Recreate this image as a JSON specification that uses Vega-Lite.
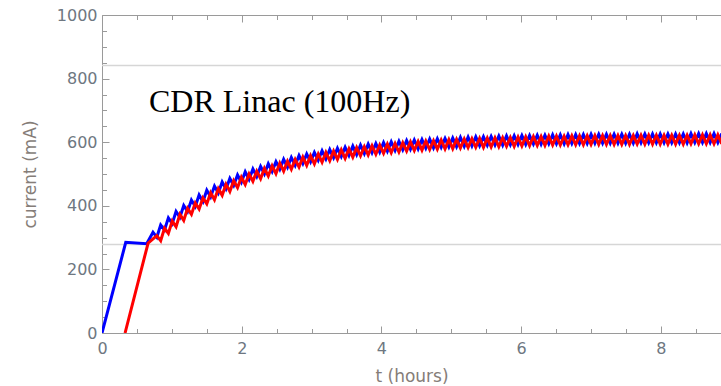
{
  "$schema": "https://vega.github.io/schema/vega-lite/v6.json",
  "width": 619,
  "height": 318,
  "autosize": {"type": "none"},
  "padding": {"left": 102, "top": 15, "right": 0, "bottom": 53},
  "background": "white",
  "config": {
    "view": {"stroke": null},
    "axis": {
      "domainColor": "#9a9a9a",
      "domainWidth": 1,
      "tickColor": "#9a9a9a",
      "tickWidth": 1,
      "grid": false,
      "labelFlush": false,
      "labelColor": "#6e7781",
      "labelFont": "DejaVu Sans",
      "labelFontSize": 16,
      "titleFont": "DejaVu Sans",
      "titleFontSize": 17,
      "titleFontWeight": "normal",
      "titleColor": "#857d78"
    }
  },
  "datasets": {
    "blue": [
      {"t":0,"c":0},{"t":0.34,"c":285},{"t":0.64,"c":281},
      {"t":0.73,"c":317},{"t":0.785,"c":301},{"t":0.84,"c":340},{"t":0.895,"c":324},{"t":0.95,"c":362},{"t":1.005,"c":344},
      {"t":1.06,"c":382},{"t":1.115,"c":364},{"t":1.17,"c":401},{"t":1.225,"c":382},{"t":1.28,"c":418},{"t":1.335,"c":398},
      {"t":1.39,"c":434},{"t":1.445,"c":413},{"t":1.5,"c":449},{"t":1.555,"c":428},{"t":1.61,"c":462},{"t":1.665,"c":440},
      {"t":1.72,"c":475},{"t":1.775,"c":453},{"t":1.83,"c":486},{"t":1.885,"c":464},{"t":1.94,"c":497},{"t":1.995,"c":474},
      {"t":2.05,"c":507},{"t":2.105,"c":483},{"t":2.16,"c":516},{"t":2.215,"c":492},{"t":2.27,"c":524},{"t":2.325,"c":500},
      {"t":2.38,"c":532},{"t":2.435,"c":508},{"t":2.49,"c":539},{"t":2.545,"c":515},{"t":2.6,"c":546},{"t":2.655,"c":521},
      {"t":2.71,"c":552},{"t":2.765,"c":527},{"t":2.82,"c":558},{"t":2.875,"c":533},{"t":2.93,"c":563},{"t":2.985,"c":538},
      {"t":3.04,"c":568},{"t":3.095,"c":543},{"t":3.15,"c":573},{"t":3.205,"c":547},{"t":3.26,"c":577},{"t":3.315,"c":551},
      {"t":3.37,"c":581},{"t":3.425,"c":555},{"t":3.48,"c":584},{"t":3.535,"c":558},{"t":3.59,"c":588},{"t":3.645,"c":561},
      {"t":3.7,"c":591},{"t":3.755,"c":564},{"t":3.81,"c":594},{"t":3.865,"c":567},{"t":3.92,"c":596},{"t":3.975,"c":569},
      {"t":4.03,"c":599},{"t":4.085,"c":572},{"t":4.14,"c":601},{"t":4.195,"c":574},{"t":4.25,"c":603},{"t":4.305,"c":576},
      {"t":4.36,"c":605},{"t":4.415,"c":578},{"t":4.47,"c":607},{"t":4.525,"c":579},{"t":4.58,"c":608},{"t":4.635,"c":581},
      {"t":4.69,"c":610},{"t":4.745,"c":582},{"t":4.8,"c":611},{"t":4.855,"c":584},{"t":4.91,"c":612},{"t":4.965,"c":585},
      {"t":5.02,"c":613},{"t":5.075,"c":586},{"t":5.13,"c":615},{"t":5.185,"c":587},{"t":5.24,"c":616},{"t":5.295,"c":588},
      {"t":5.35,"c":617},{"t":5.405,"c":589},{"t":5.46,"c":617},{"t":5.515,"c":590},{"t":5.57,"c":618},{"t":5.625,"c":591},
      {"t":5.68,"c":619},{"t":5.735,"c":591},{"t":5.79,"c":620},{"t":5.845,"c":592},{"t":5.9,"c":620},{"t":5.955,"c":593},
      {"t":6.01,"c":621},{"t":6.065,"c":593},{"t":6.12,"c":621},{"t":6.175,"c":594},{"t":6.23,"c":622},{"t":6.285,"c":594},
      {"t":6.34,"c":622},{"t":6.395,"c":595},{"t":6.45,"c":623},{"t":6.505,"c":595},{"t":6.56,"c":623},{"t":6.615,"c":595},
      {"t":6.67,"c":624},{"t":6.725,"c":596},{"t":6.78,"c":624},{"t":6.835,"c":596},{"t":6.89,"c":624},{"t":6.945,"c":596},
      {"t":7.0,"c":625},{"t":7.055,"c":597},{"t":7.11,"c":625},{"t":7.165,"c":597},{"t":7.22,"c":625},{"t":7.275,"c":597},
      {"t":7.33,"c":625},{"t":7.385,"c":597},{"t":7.44,"c":625},{"t":7.495,"c":597},{"t":7.55,"c":625},{"t":7.605,"c":597},
      {"t":7.66,"c":626},{"t":7.715,"c":598},{"t":7.77,"c":626},{"t":7.825,"c":598},{"t":7.88,"c":626},{"t":7.935,"c":598},
      {"t":7.99,"c":626},{"t":8.045,"c":598},{"t":8.1,"c":626},{"t":8.155,"c":598},{"t":8.21,"c":626},{"t":8.265,"c":598},
      {"t":8.32,"c":626},{"t":8.375,"c":598},{"t":8.43,"c":627},{"t":8.485,"c":599},{"t":8.54,"c":627},{"t":8.595,"c":599},
      {"t":8.65,"c":627},{"t":8.705,"c":599},{"t":8.76,"c":627},{"t":8.815,"c":599},{"t":8.87,"c":627}
    ],
    "red": [
      {"t":0.33,"c":0},{"t":0.66,"c":283},
      {"t":0.785,"c":306},{"t":0.84,"c":290},{"t":0.895,"c":330},{"t":0.95,"c":313},{"t":1.005,"c":352},
      {"t":1.06,"c":334},{"t":1.115,"c":373},{"t":1.17,"c":354},{"t":1.225,"c":392},{"t":1.28,"c":373},{"t":1.335,"c":409},
      {"t":1.39,"c":390},{"t":1.445,"c":425},{"t":1.5,"c":406},{"t":1.555,"c":441},{"t":1.61,"c":419},{"t":1.665,"c":454},
      {"t":1.72,"c":433},{"t":1.775,"c":468},{"t":1.83,"c":445},{"t":1.885,"c":479},{"t":1.94,"c":457},{"t":1.995,"c":490},
      {"t":2.05,"c":467},{"t":2.105,"c":500},{"t":2.16,"c":477},{"t":2.215,"c":509},{"t":2.27,"c":485},{"t":2.325,"c":518},
      {"t":2.38,"c":494},{"t":2.435,"c":526},{"t":2.49,"c":501},{"t":2.545,"c":534},{"t":2.6,"c":509},{"t":2.655,"c":540},
      {"t":2.71,"c":515},{"t":2.765,"c":546},{"t":2.82,"c":522},{"t":2.875,"c":553},{"t":2.93,"c":527},{"t":2.985,"c":558},
      {"t":3.04,"c":532},{"t":3.095,"c":563},{"t":3.15,"c":537},{"t":3.205,"c":568},{"t":3.26,"c":542},{"t":3.315,"c":572},
      {"t":3.37,"c":546},{"t":3.425,"c":576},{"t":3.48,"c":549},{"t":3.535,"c":579},{"t":3.59,"c":553},{"t":3.645,"c":583},
      {"t":3.7,"c":557},{"t":3.755,"c":586},{"t":3.81,"c":560},{"t":3.865,"c":589},{"t":3.92,"c":562},{"t":3.975,"c":591},
      {"t":4.03,"c":565},{"t":4.085,"c":594},{"t":4.14,"c":567},{"t":4.195,"c":596},{"t":4.25,"c":569},{"t":4.305,"c":598},
      {"t":4.36,"c":572},{"t":4.415,"c":601},{"t":4.47,"c":574},{"t":4.525,"c":602},{"t":4.58,"c":575},{"t":4.635,"c":604},
      {"t":4.69,"c":577},{"t":4.745,"c":605},{"t":4.8,"c":578},{"t":4.855,"c":607},{"t":4.91,"c":579},{"t":4.965,"c":608},
      {"t":5.02,"c":580},{"t":5.075,"c":609},{"t":5.13,"c":582},{"t":5.185,"c":610},{"t":5.24,"c":583},{"t":5.295,"c":611},
      {"t":5.35,"c":584},{"t":5.405,"c":612},{"t":5.46,"c":584},{"t":5.515,"c":613},{"t":5.57,"c":585},{"t":5.625,"c":614},
      {"t":5.68,"c":586},{"t":5.735,"c":614},{"t":5.79,"c":587},{"t":5.845,"c":615},{"t":5.9,"c":587},{"t":5.955,"c":616},
      {"t":6.01,"c":588},{"t":6.065,"c":617},{"t":6.12,"c":589},{"t":6.175,"c":618},{"t":6.23,"c":590},{"t":6.285,"c":618},
      {"t":6.34,"c":590},{"t":6.395,"c":619},{"t":6.45,"c":591},{"t":6.505,"c":619},{"t":6.56,"c":591},{"t":6.615,"c":619},
      {"t":6.67,"c":592},{"t":6.725,"c":620},{"t":6.78,"c":592},{"t":6.835,"c":620},{"t":6.89,"c":592},{"t":6.945,"c":620},
      {"t":7.0,"c":593},{"t":7.055,"c":621},{"t":7.11,"c":593},{"t":7.165,"c":621},{"t":7.22,"c":593},{"t":7.275,"c":621},
      {"t":7.33,"c":593},{"t":7.385,"c":621},{"t":7.44,"c":593},{"t":7.495,"c":621},{"t":7.55,"c":593},{"t":7.605,"c":621},
      {"t":7.66,"c":594},{"t":7.715,"c":622},{"t":7.77,"c":594},{"t":7.825,"c":622},{"t":7.88,"c":594},{"t":7.935,"c":622},
      {"t":7.99,"c":594},{"t":8.045,"c":622},{"t":8.1,"c":594},{"t":8.155,"c":622},{"t":8.21,"c":594},{"t":8.265,"c":622},
      {"t":8.32,"c":594},{"t":8.375,"c":622},{"t":8.43,"c":595},{"t":8.485,"c":623},{"t":8.54,"c":595},{"t":8.595,"c":623},
      {"t":8.65,"c":595},{"t":8.705,"c":623},{"t":8.76,"c":595},{"t":8.815,"c":623},{"t":8.87,"c":595}
    ],
    "refs": [{"ref": 841}, {"ref": 278}],
    "label": [{"t": 0.673, "c": 696, "text": "CDR Linac (100Hz)"}]
  },
  "resolve": {"axis": {"x": "independent", "y": "independent"}},
  "layer": [
    {
      "data": {"name": "refs"},
      "mark": {"type": "rule", "color": "#d6d6d6", "strokeWidth": 1.5},
      "encoding": {
        "x": {"datum": 0, "type": "quantitative",
              "scale": {"domain": [0, 8.86], "nice": false, "zero": false},
              "axis": {"orient": "top", "values": [0.5,1,1.5,2.5,3,3.5,4.5,5,5.5,6.5,7,7.5,8.5],
                       "tickSize": -4.5, "labels": false, "domain": true, "title": null}},
        "x2": {"datum": 8.86},
        "y": {"field": "ref", "type": "quantitative",
              "scale": {"domain": [0, 1000], "nice": false},
              "axis": {"orient": "left", "values": [50,100,150,250,300,350,450,500,550,650,700,750,850,900,950],
                       "tickSize": -4.5, "labels": false, "domain": false, "title": null}}
      }
    },
    {
      "data": {"name": "blue"},
      "mark": {"type": "line", "color": "#0000ff", "strokeWidth": 3, "clip": true},
      "encoding": {
        "x": {"field": "t", "type": "quantitative",
              "scale": {"domain": [0, 8.86], "nice": false, "zero": false},
              "axis": {"orient": "bottom", "values": [0,2,4,6,8], "tickSize": -7, "labelPadding": 14,
                       "title": "t (hours)", "titlePadding": 12, "format": "d"}},
        "y": {"field": "c", "type": "quantitative",
              "scale": {"domain": [0, 1000], "nice": false},
              "axis": {"orient": "left", "values": [0,200,400,600,800,1000], "tickSize": -7, "labelPadding": 12,
                       "title": "current (mA)", "titlePadding": 17, "format": "d"}}
      }
    },
    {
      "data": {"name": "red"},
      "mark": {"type": "line", "color": "#ff0000", "strokeWidth": 3, "clip": true},
      "encoding": {
        "x": {"field": "t", "type": "quantitative",
              "scale": {"domain": [0, 8.86], "nice": false, "zero": false},
              "axis": {"orient": "bottom", "values": [0.5,1,1.5,2.5,3,3.5,4.5,5,5.5,6.5,7,7.5,8.5],
                       "tickSize": -4.5, "labels": false, "domain": false, "title": null}},
        "y": {"field": "c", "type": "quantitative",
              "scale": {"domain": [0, 1000], "nice": false}, "axis": null}
      }
    },
    {
      "data": {"name": "label"},
      "mark": {"type": "text", "align": "left", "baseline": "alphabetic", "font": "Liberation Serif",
               "fontSize": 32, "color": "black"},
      "encoding": {
        "x": {"field": "t", "type": "quantitative",
              "scale": {"domain": [0, 8.86], "nice": false, "zero": false},
              "axis": {"orient": "top", "values": [0,2,4,6,8], "tickSize": -7, "labels": false,
                       "domain": false, "title": null}},
        "y": {"field": "c", "type": "quantitative",
              "scale": {"domain": [0, 1000], "nice": false}, "axis": null},
        "text": {"field": "text"}
      }
    }
  ]
}
